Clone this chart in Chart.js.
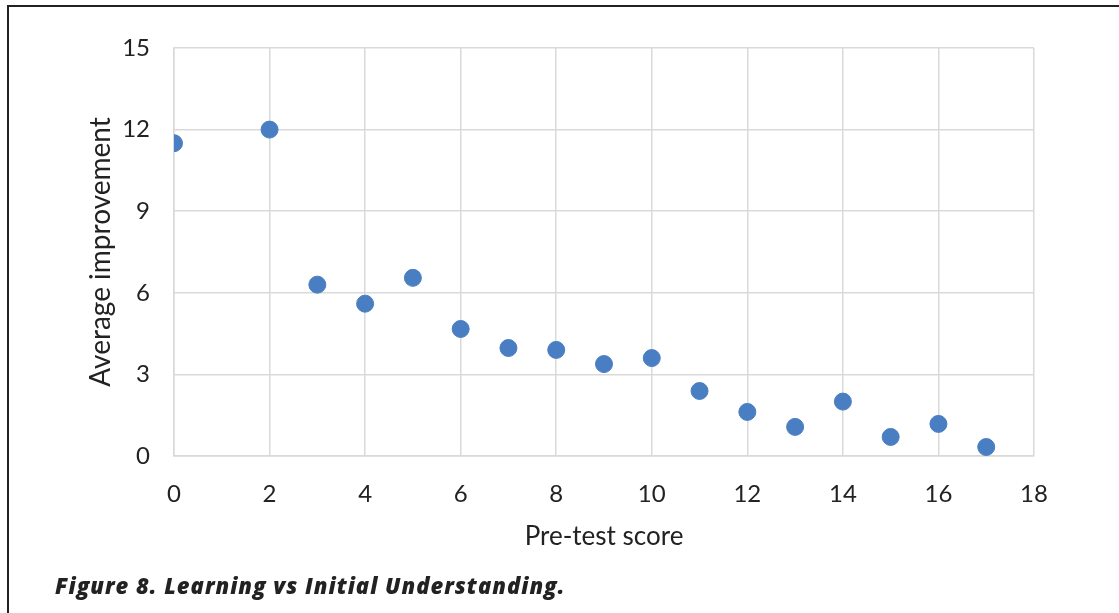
<!doctype html>
<html>
<head>
<meta charset="UTF-8">
<title>Learning vs Initial Understanding</title>
<script src="https://cdn.jsdelivr.net/npm/chart.js@4.4.0/dist/chart.umd.min.js"></script>
<style>
  body { margin:0; background:#fff; width:1119px; height:613px; overflow:hidden; position:relative; }
  #frame { position:absolute; left:7px; top:5px; right:0; bottom:0; border-left:2px solid #222; border-top:2px solid #222; }
  #wrap { position:absolute; left:0; top:0; width:1119px; height:613px; }
  #caption { position:absolute; left:55px; top:570px; font-family:"Open Sans", Lato, sans-serif; font-weight:800; font-style:italic; font-size:22px; letter-spacing:1px; color:#222; }
</style>
</head>
<body>
<div id="frame"></div>
<div id="wrap"><canvas id="myCanvas"></canvas></div>
<div id="caption">Figure 8. Learning vs Initial Understanding.</div>
<script>
    // pre-test score vs average improvement
    var scores = [0, 2, 3, 4, 5, 6, 7, 8, 9, 10, 11, 12, 13, 14, 15, 16, 17];
    var improvement = [11.5, 12.0, 6.3, 5.6, 6.55, 4.67, 3.97, 3.9, 3.38, 3.6, 2.39, 1.62, 1.07, 2.0, 0.7, 1.18, 0.33];
    var xTicks = [0, 2, 4, 6, 8, 10, 12, 14, 16, 18];
    var yTicks = [0, 3, 6, 9, 12, 15];

    var points = scores.map(function(s, i){ return {x: s, y: improvement[i]}; });
    var tickFont = {family: 'Lato, "Open Sans", sans-serif', size: 24};

    var ctx = document.getElementById('myCanvas').getContext('2d');
    var myChart = new Chart(ctx, {
        type: 'scatter',
        data: {
            datasets: [{
                label: 'Average improvement',
                data: points,
                backgroundColor: '#4a7ec2',
                borderColor: '#4a7ec2',
                pointRadius: 8.5,
                pointHoverRadius: 8.5
            }]
        },
        options: {
            responsive: true,
            maintainAspectRatio: false,
            animation: false,
            layout: { padding: {top: 48, right: 85, bottom: 0, left: 0} },
            plugins: { legend: {display: false}, tooltip: {enabled: false} },
            scales: {
                x: {
                    type: 'linear', min: 0, max: 18,
                    afterBuildTicks: function(axis){ axis.ticks = xTicks.map(function(v){ return {value: v}; }); },
                    afterFit: function(axis){ axis.height = 157; },
                    grid: {color: '#d9d9d9', lineWidth: 1.5, drawTicks: false},
                    border: {color: '#d9d9d9', width: 1.5},
                    ticks: {font: tickFont, color: '#222', padding: 24, maxRotation: 0},
                    title: {display: true, text: 'Pre-test score', font: {family: 'Lato, "Open Sans", sans-serif', size: 26}, color: '#222', padding: {top: 0, bottom: 61}}
                },
                y: {
                    type: 'linear', min: 0, max: 15,
                    afterBuildTicks: function(axis){ axis.ticks = yTicks.map(function(v){ return {value: v}; }); },
                    afterFit: function(axis){ axis.width = 174; },
                    grid: {color: '#d9d9d9', lineWidth: 1.5, drawTicks: false},
                    border: {color: '#d9d9d9', width: 1.5},
                    ticks: {font: tickFont, color: '#222', padding: 24},
                    title: {display: true, text: 'Average improvement', font: {family: 'Lato, "Open Sans", sans-serif', size: 28}, color: '#222', padding: {top: 84, bottom: 0}}
                }
            }
        }
    });
</script>
</body>
</html>
